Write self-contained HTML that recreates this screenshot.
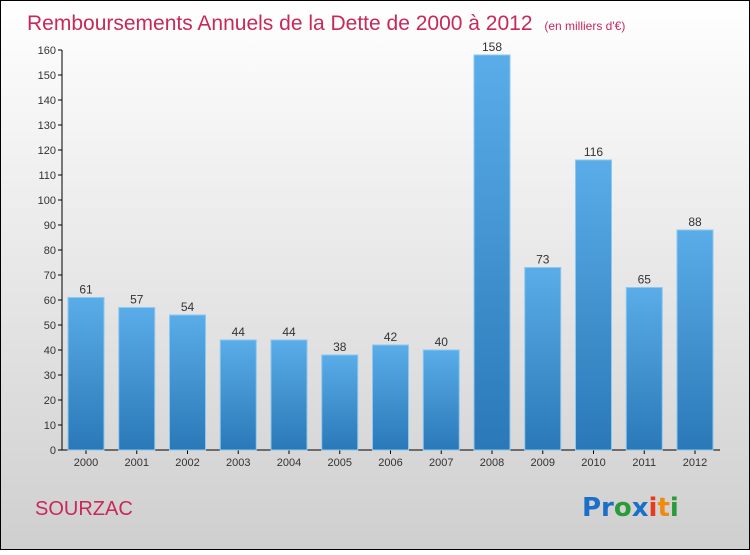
<!DOCTYPE html>
<html><head><meta charset="utf-8"><style>
body{margin:0;width:750px;height:550px;overflow:hidden;font-family:"Liberation Sans",sans-serif}
</style></head><body>
<svg width="750" height="550" xmlns="http://www.w3.org/2000/svg" id="svg">
<defs>
<linearGradient id="bg" x1="0" y1="0" x2="0" y2="1"><stop offset="0" stop-color="#ffffff"/><stop offset="1" stop-color="#cfcfcf"/></linearGradient>
<linearGradient id="bar" x1="0" y1="0" x2="0" y2="1"><stop offset="0" stop-color="#5aade8"/><stop offset="1" stop-color="#2a78b8"/></linearGradient>
</defs>
<rect x="0.5" y="0.5" width="749" height="549" fill="url(#bg)" stroke="#000"/>
<text x="27" y="30" font-size="21" fill="#c8285a">Remboursements Annuels de la Dette de 2000 à 2012 <tspan font-size="12" dx="6">(en milliers d'€)</tspan></text>
<text x="35" y="515" font-size="20" fill="#c8285a">SOURZAC</text>
<g font-size="26" font-weight="bold" font-family="'DejaVu Sans',sans-serif">
<text x="582" y="516"><tspan fill="#1a6fc8">Pr</tspan><tspan fill="#2a9a3a">o</tspan><tspan fill="#1a6fc8">x</tspan><tspan fill="#e83a1a">i</tspan><tspan fill="#f08a10">t</tspan><tspan fill="#2a9a3a">i</tspan></text>
</g>
<g id="axes"></g>
<g id="bars"></g>
</svg>
<script>
const categories=["2000","2001","2002","2003","2004","2005","2006","2007","2008","2009","2010","2011","2012"];
const values=[61,57,54,44,44,38,42,40,158,73,116,65,88];
const yTicks=[0,10,20,30,40,50,60,70,80,90,100,110,120,130,140,150,160];
const NS="http://www.w3.org/2000/svg";
const y=v=>450-v*2.5;
const x=i=>86+i*50.75;
function mk(t,a,p){const e=document.createElementNS(NS,t);for(const k in a)e.setAttribute(k,a[k]);p.appendChild(e);return e;}
const ax=document.getElementById('axes'),bg=document.getElementById('bars');
const yl=mk('line',{x1:62,y1:50,x2:62,y2:450,stroke:'#000'},ax);


const xl=mk('line',{x1:62,y1:450,x2:720,y2:450,stroke:'#000'},ax);


yTicks.forEach(v=>{
 mk('line',{x1:58,y1:y(v),x2:62,y2:y(v),stroke:'#000'},ax);
 const t=mk('text',{x:56,y:y(v)+4,'text-anchor':'end','font-size':11,fill:'#333'},ax);
 t.textContent=v;
 
 
});
categories.forEach((c,i)=>{
 const v=values[i];
 const r=mk('rect',{x:x(i)-18,y:y(v),width:36,height:v*2.5,fill:'url(#bar)',stroke:'#8cc8f0','stroke-width':1},bg);
 
 
 const l=mk('text',{x:x(i),y:y(v)-4,'text-anchor':'middle','font-size':12,fill:'#333'},bg);
 l.textContent=v;
 
 
 mk('line',{x1:x(i),y1:450,x2:x(i),y2:454,stroke:'#000'},ax);
 const t=mk('text',{x:x(i),y:466,'text-anchor':'middle','font-size':11,fill:'#333'},ax);
 t.textContent=c;
 
 
});
</script>
</body></html>
